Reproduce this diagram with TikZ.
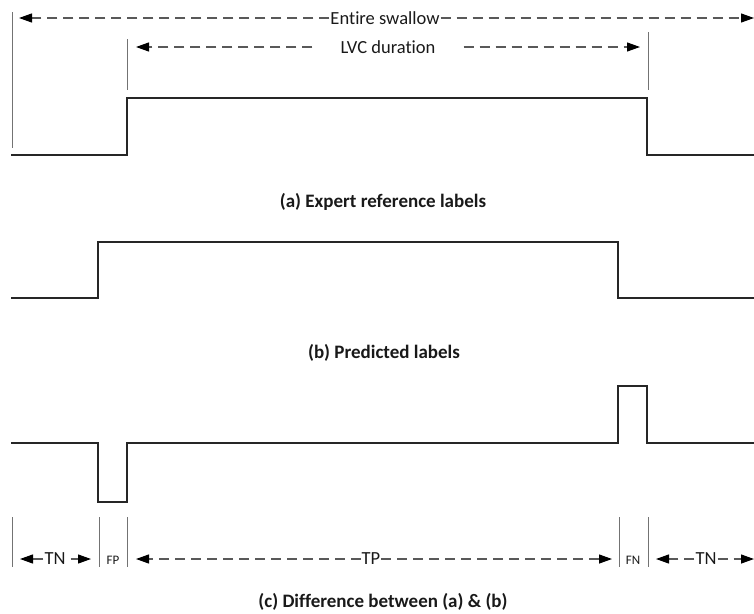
\documentclass[tikz,border=0pt]{standalone}
\usepackage{fontspec}
\setmainfont[Ligatures={NoCommon}]{Carlito}
\usetikzlibrary{arrows.meta}
\begin{document}
\begin{tikzpicture}[x=1pt,y=-1pt,
  signal/.style={line width=2pt,draw=black!85,line join=miter},
  tick/.style={line width=1pt,draw=black!55},
  dimline/.style={line width=1.2pt,draw=black!65,dash pattern=on 10pt off 6pt},
  dimtip/.style={-{Triangle[length=13pt,width=9pt,fill=black,color=black]}},
  lbl/.style={font=\fontsize{18.5}{22}\selectfont,inner sep=1pt,text=black!90},
  small/.style={font=\fontsize{13}{15}\selectfont,inner sep=1pt,text=black!90},
  caption/.style={font=\bfseries\fontsize{19}{23}\selectfont,text=black!90,anchor=base}]
\useasboundingbox (0,0) rectangle (754,613);

% ---------- (a) ----------
\coordinate (a0) at (11,155);
\coordinate (a1) at (127,155);
\coordinate (a2) at (127,98);
\coordinate (a3) at (647,98);
\coordinate (a4) at (647,155);
\coordinate (a5) at (754,155);
\draw[signal] (a0) -- (a1) -- (a2) -- (a3) -- (a4) -- (a5);

\coordinate (t1top) at (12,12);
\coordinate (t1bot) at (12,148);
\draw[tick] (t1top) -- (t1bot);
\coordinate (t2top) at (127,39);
\coordinate (t2bot) at (127,90);
\draw[tick] (t2top) -- (t2bot);
\coordinate (t3top) at (648,32);
\coordinate (t3bot) at (648,90);
\draw[tick] (t3top) -- (t3bot);

\node[lbl] (entire) at (385,18) {Entire swallow};
\coordinate (eL) at (19,18);
\coordinate (eR) at (754,18);
\draw[dimline,dimtip] (entire.west) -- (eL);
\draw[dimline,dimtip] (entire.east) -- (eR);

\node[lbl,inner xsep=28pt] (lvc) at (388,47) {LVC duration};
\coordinate (lL) at (136,47);
\coordinate (lR) at (640,47);
\draw[dimline,dimtip] (lvc.west) -- (lL);
\draw[dimline,dimtip] (lvc.east) -- (lR);

\node[caption] (capa) at (383,207) {(a) Expert reference labels};

% ---------- (b) ----------
\coordinate (b0) at (11,298);
\coordinate (b1) at (98,298);
\coordinate (b2) at (98,242);
\coordinate (b3) at (618,242);
\coordinate (b4) at (618,298);
\coordinate (b5) at (754,298);
\draw[signal] (b0) -- (b1) -- (b2) -- (b3) -- (b4) -- (b5);

\node[caption] (capb) at (384,358) {(b) Predicted labels};

% ---------- (c) ----------
\coordinate (c0) at (11,443);
\coordinate (c1) at (98,443);
\coordinate (c2) at (98,502);
\coordinate (c3) at (127,502);
\coordinate (c4) at (127,443);
\coordinate (c5) at (618,443);
\coordinate (c6) at (618,386);
\coordinate (c7) at (647,386);
\coordinate (c8) at (647,443);
\coordinate (c9) at (754,443);
\draw[signal] (c0) -- (c1) -- (c2) -- (c3) -- (c4) -- (c5) -- (c6) -- (c7) -- (c8) -- (c9);

\foreach \x/\n in {12/v1,99/v2,127/v3,619/v4,648/v5}{
  \coordinate (\n t) at (\x,517);
  \coordinate (\n b) at (\x,567);
  \draw[tick] (\n t) -- (\n b);
}

\node[lbl] (tn1) at (55,559) {TN};
\coordinate (tn1L) at (20,559);
\coordinate (tn1R) at (91,559);
\draw[line width=1.2pt,draw=black!65,dimtip] (tn1.west) -- (tn1L);
\draw[line width=1.2pt,draw=black!65,dimtip] ([xshift=4pt]tn1.east) -- (tn1R);

\node[small] (fp) at (113,560) {FP};

\node[lbl] (tp) at (371,559) {TP};
\coordinate (tpL) at (136,559);
\coordinate (tpR) at (612,559);
\draw[dimline,dimtip] (tp.west) -- (tpL);
\draw[dimline,dimtip] (tp.east) -- (tpR);

\node[small] (fn) at (633,560) {FN};

\node[lbl] (tn2) at (706,559) {TN};
\coordinate (tn2L) at (656,559);
\coordinate (tn2R) at (754,559);
\draw[dimline,dimtip] (tn2.west) -- (tn2L);
\draw[dimline,dimtip] (tn2.east) -- (tn2R);

\node[caption] (capc) at (383,607) {(c) Difference between (a) \& (b)};
\end{tikzpicture}
\end{document}
